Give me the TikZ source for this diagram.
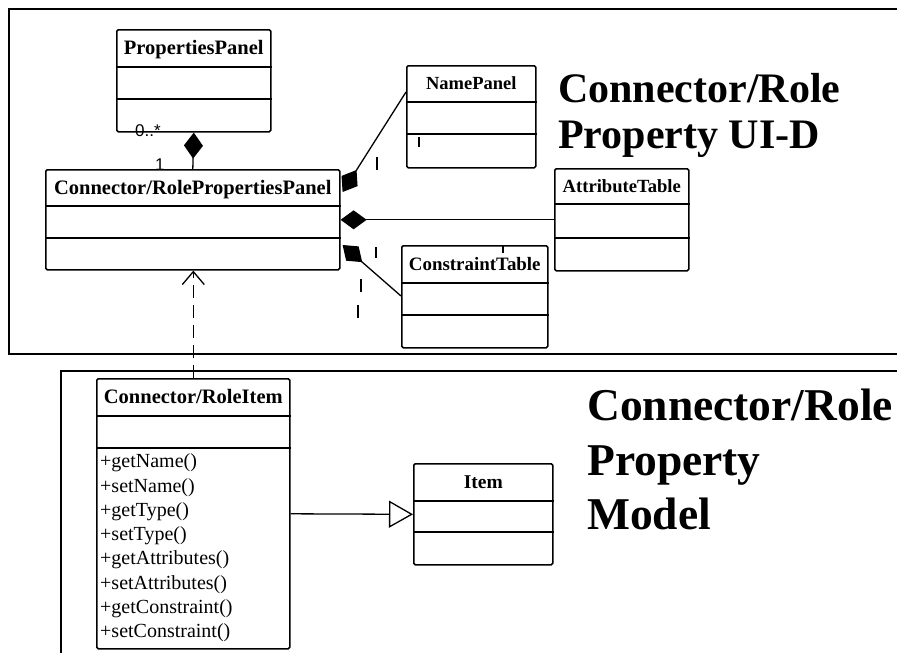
\documentclass[tikz,border=0pt]{standalone}
\usepackage{fontspec}
\setmainfont{Liberation Serif}
\newfontfamily\labelsans{Liberation Sans}
\usetikzlibrary{arrows.meta,calc}

\tikzset{
  classbox/.style={draw, line width=1.6pt, rounded corners=1.5pt, inner sep=0pt, anchor=north west, fill=white},
  sepline/.style={line width=1.6pt},
  frame/.style={line width=2pt},
  comp/.style={line width=1.3pt, -{Diamond[length=26pt,width=19pt]}},
  gen/.style={line width=1.3pt, -{Triangle[open,length=24pt,width=27pt,fill=white]}},
  dep/.style={line width=1.3pt, dash pattern=on 13pt off 7pt, -{Straight Barb[length=13pt,width=22pt]}},
  tick/.style={line width=1.4pt},
  method/.style={anchor=west, inner sep=0pt, font=\fontsize{20}{22}\selectfont},
  mult/.style={anchor=base west, inner sep=0pt, font=\labelsans\fontsize{17}{19}\selectfont},
  titleA/.style={anchor=base west, inner sep=0pt, font=\bfseries\fontsize{42}{46}\selectfont},
  titleB/.style={anchor=base west, inner sep=0pt, font=\bfseries\fontsize{45.5}{50}\selectfont},
}

% UML class box: name, x, y, width, height, first and second separator offsets, title size, title
\newcommand\umlclass[9]{%
  \node[classbox, minimum width=#4pt, minimum height=#5pt] (#1) at (#2,#3) {};
  \draw[sepline] ($(#1.north west)+(0,#6)$) -- ($(#1.north east)+(0,#6)$);
  \draw[sepline] ($(#1.north west)+(0,#7)$) -- ($(#1.north east)+(0,#7)$);
  \node[inner sep=0pt, anchor=base, font=\bfseries\fontsize{#8}{#8}\selectfont]
    (#1-name) at ($(#1.north)+(0,{#6/2+0.33*#8})$) {#9};
}

\begin{document}
\begin{tikzpicture}[x=1pt,y=-1pt]
\useasboundingbox (0,0) rectangle (897,653);
\clip (0,0) rectangle (897,653);

% package frames
\draw[frame] (905,9) -- (9,9) -- (9,354) -- (905,354);
\draw[frame] (905,371) -- (61,371) -- (61,670);

% classes
\umlclass{pp}{116}{29}{154}{102}{38}{70}{20.5}{PropertiesPanel}
\umlclass{rpp}{45}{169}{294}{100}{37}{69}{20.5}{Connector/RolePropertiesPanel}
\umlclass{np}{406}{65}{129}{102}{37}{69}{18.5}{NamePanel}
\umlclass{at}{554}{168}{134}{102}{36}{70}{18.6}{AttributeTable}
\umlclass{ct}{401}{245}{146}{102}{38}{70}{18.9}{ConstraintTable}
\umlclass{rit}{96}{378}{193}{270}{38}{70}{20.5}{Connector/RoleItem}
\umlclass{item}{413}{463}{139}{101}{38}{69}{19.5}{Item}

% operations of Connector/RoleItem
\foreach \m [count=\i from 0] in {getName(),setName(),getType(),setType(),getAttributes(),setAttributes(),getConstraint(),setConstraint()}
  \node[method] (op\i) at (100,{463+24.3*\i}) {+\m};

% compositions
\draw[comp] (rpp.north) -- (pp.south);
\draw[comp] ($(np.north west)+(0,27)$) -- ($(rpp.north east)+(2,23)$);
\draw[comp] (at.west) -- (rpp.east);
\draw[comp] ($(ct.north west)+(0,51)$) -- ($(rpp.north east)+(2,76)$);

% dependency and generalization
\draw[dep] (rit.north) -- (rit.north |- rpp.south);
\draw[gen] (rit.east) -- (item.west);

% multiplicities
\node[mult] (m0) at (135,136) {0..*};
\node[mult] (m1) at (155,170) {1};
\draw[tick] (377,157) -- (377,170);
\draw[tick] (376,247) -- (376,258);
\draw[tick] (361,279) -- (361,292);
\draw[tick] (358,305) -- (358,318);
\draw[tick] (419,137) -- (419,147);
\draw[tick] (503,245) -- (503,253);

% package titles
\node[titleA] (ta1) at (558,102) {Connector/Role};
\node[titleA] (ta2) at (558,148) {Property UI-D};
\node[titleB] (tb1) at (587,420) {Connector/Role};
\node[titleB] (tb2) at (587,475) {Property};
\node[titleB] (tb3) at (587,529) {Model};
\end{tikzpicture}
\end{document}
